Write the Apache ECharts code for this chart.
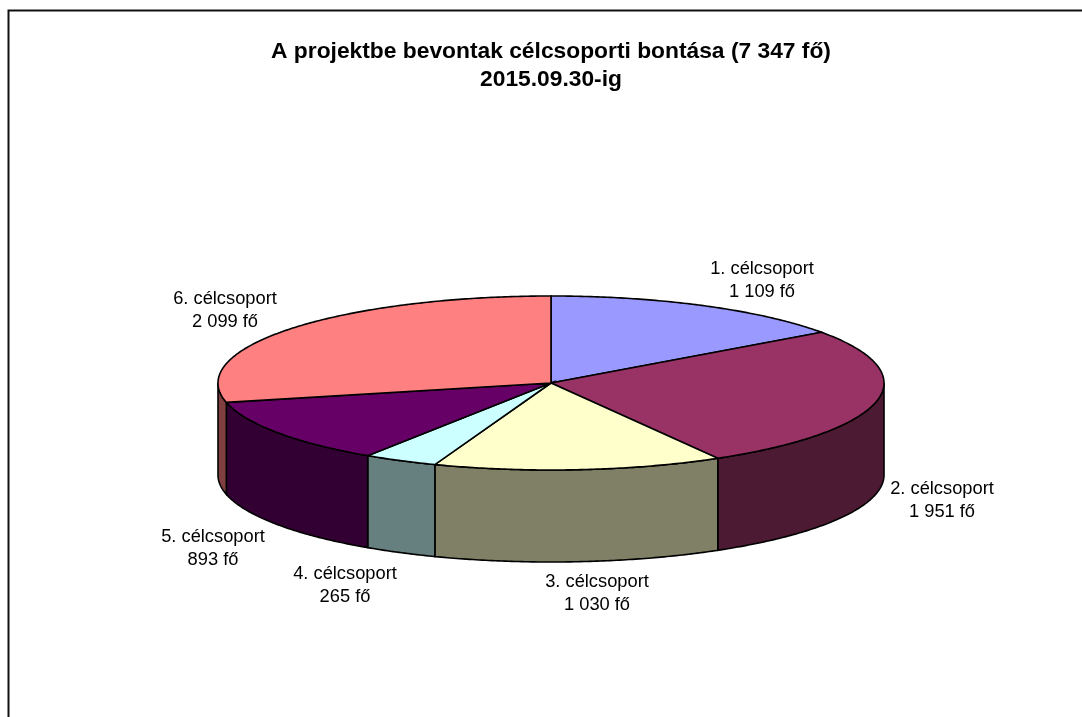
<!DOCTYPE html>
<html>
<head>
<meta charset="utf-8">
<style>
html, body { margin: 0; padding: 0; background: #fff; }
#main { width: 1082px; height: 717px; }
</style>
<script src="https://cdn.jsdelivr.net/npm/echarts@6/dist/echarts.min.js"></script>
</head>
<body>
<div id="main"></div>
<script>
const groups = ['1. célcsoport', '2. célcsoport', '3. célcsoport', '4. célcsoport', '5. célcsoport', '6. célcsoport']
const people = [1109, 1951, 1030, 265, 893, 2099]

const topColors = ['#9999ff', '#993366', '#ffffcc', '#ccffff', '#660066', '#ff8080']
const wallColors = ['#4d4d80', '#4d1a33', '#808066', '#668080', '#330033', '#804040']

// pie layout
const cx = 551, cy = 383, rx = 333, ry = 87, depth = 92
// label centres, placed by hand like in the original
const labelPos = [[762, 280], [942, 500], [597, 593], [345, 585], [213, 548], [225, 310]]

const total = people.reduce((a, b) => a + b, 0)

function pt(angle, drop) {
    return [cx + rx * Math.sin(angle), cy - ry * Math.cos(angle) + (drop || 0)]
}

function arc(from, to, drop) {
    const pts = []
    const n = Math.max(2, Math.ceil((to - from) / 0.01))
    for (let i = 0; i <= n; i++) {
        pts.push(pt(from + (to - from) * i / n, drop))
    }
    return pts
}

function formatPeople(v) {
    return String(v).replace(/\B(?=(\d{3})+$)/g, ' ') + ' fő'
}

function renderSlice(params, api) {
    const i = params.dataIndex
    const before = people.slice(0, i).reduce((a, b) => a + b, 0)
    const start = before / total * Math.PI * 2
    const end = (before + api.value(0)) / total * Math.PI * 2
    const children = []

    // the side wall only shows on the front half of the pie
    const wallFrom = Math.max(start, Math.PI / 2)
    const wallTo = Math.min(end, Math.PI * 1.5)
    if (wallTo > wallFrom) {
        const top = arc(wallFrom, wallTo, 0)
        const bottom = arc(wallFrom, wallTo, depth).reverse()
        children.push({
            type: 'polygon',
            shape: { points: top.concat(bottom) },
            style: { fill: wallColors[i], stroke: '#000', lineWidth: 1.6 }
        })
    }

    children.push({
        type: 'polygon',
        shape: { points: [[cx, cy]].concat(arc(start, end, 0)) },
        style: { fill: topColors[i], stroke: '#000', lineWidth: 1.6 }
    })

    children.push({
        type: 'text',
        x: labelPos[i][0],
        y: labelPos[i][1],
        z2: 10,
        style: {
            text: groups[i] + '\n' + formatPeople(api.value(0)),
            fill: '#000',
            font: '18.3px "Liberation Sans", Arial, sans-serif',
            lineHeight: 23,
            align: 'center',
            verticalAlign: 'middle'
        }
    })

    return { type: 'group', children: children }
}

const myChart = echarts.init(document.getElementById('main'))

myChart.setOption({
    animation: false,
    backgroundColor: '#fff',
    title: {
        text: 'A projektbe bevontak célcsoporti bontása (7 347 fő)\n2015.09.30-ig',
        left: 546,
        top: 33,
        textAlign: 'center',
        textStyle: {
            fontFamily: '"Liberation Sans", Arial, sans-serif',
            fontSize: 22.8,
            fontWeight: 'bold',
            color: '#000',
            lineHeight: 28
        }
    },
    graphic: [{
        type: 'polyline',
        shape: { points: [[8.5, 717], [8.5, 10.5], [1082, 10.5]] },
        style: { fill: null, stroke: '#111', lineWidth: 2 },
        silent: true
    }],
    series: [{
        type: 'custom',
        coordinateSystem: 'none',
        renderItem: renderSlice,
        data: people.map(v => [v])
    }]
})
</script>
</body>
</html>
